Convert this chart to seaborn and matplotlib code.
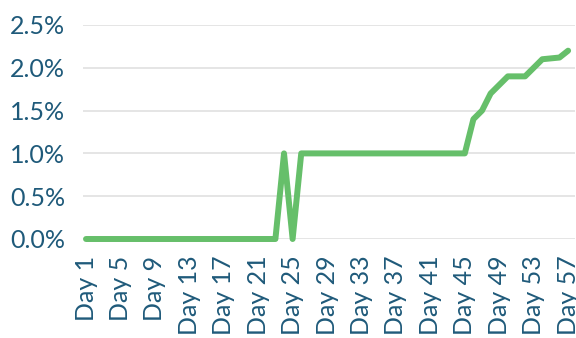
import matplotlib
matplotlib.use("Agg")
import matplotlib.pyplot as plt
import seaborn as sns
import pandas as pd
from matplotlib.ticker import FuncFormatter

# Data (values in percent)
days = [f"Day {i}" for i in range(1, 58)]
rate = ([0.0] * 23 + [1.0, 0.0] + [1.0] * 20 +
        [1.4, 1.5, 1.7, 1.8, 1.9, 1.9, 1.9, 2.0, 2.1, 2.11, 2.12, 2.2])
tick_days = days[::4]

TEXT = "#1F5A7A"
GREEN = "#66BF6A"

sns.set_theme(style="white")
plt.rcParams['font.family'] = ['Lato', 'DejaVu Sans']

df = pd.DataFrame({"Day": days, "Rate": rate})
df["idx"] = range(len(df))

fig = plt.figure(figsize=(5.76, 3.38), dpi=100)
ax = fig.add_axes([83 / 576, 1 - 239 / 338, (575 - 83) / 576, (239 - 25) / 338])

sns.lineplot(data=df, x="idx", y="Rate", ax=ax, color=GREEN, linewidth=4.3,
             clip_on=False, solid_joinstyle="round", solid_capstyle="round")

ax.set_xlim(-0.35, 56.8)
ax.set_ylim(0, 2.5)
ax.set_yticks([0, 0.5, 1.0, 1.5, 2.0, 2.5])
ax.yaxis.set_major_formatter(FuncFormatter(lambda v, p: f"{v:.1f}%"))
ax.set_xticks([days.index(d) for d in tick_days])
ax.set_xticklabels(tick_days, rotation=90)
ax.grid(axis="y", color="#E3E3E3", linewidth=1.3)
ax.set_axisbelow(True)
for s in ax.spines.values():
    s.set_visible(False)
ax.tick_params(axis="both", length=0, labelsize=18, colors=TEXT)
ax.tick_params(axis="y", pad=13)
ax.tick_params(axis="x", pad=12)
ax.set_xlabel("")
ax.set_ylabel("")

fig.savefig("out.png", dpi=100)
plt.close(fig)
